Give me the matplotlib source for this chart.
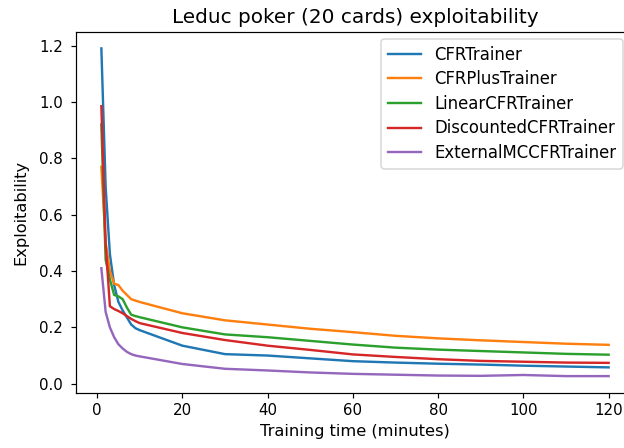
import matplotlib
matplotlib.use("Agg")
import matplotlib.pyplot as plt

# training time in minutes
minutes = [1, 2, 3, 4, 5, 6, 7, 8, 9, 10, 20, 30, 40, 50, 60, 70, 80, 90, 100, 110, 120]

# exploitability per trainer
cfr = [1.19, 0.70, 0.46, 0.35, 0.29, 0.26, 0.235, 0.21, 0.197, 0.19,
       0.135, 0.105, 0.10, 0.09, 0.08, 0.075, 0.071, 0.068, 0.064, 0.061, 0.058]
cfr_plus = [0.77, 0.50, 0.40, 0.355, 0.35, 0.33, 0.315, 0.30, 0.295, 0.29,
            0.25, 0.225, 0.21, 0.195, 0.183, 0.17, 0.161, 0.154, 0.148, 0.142, 0.138]
linear_cfr = [0.92, 0.44, 0.37, 0.315, 0.31, 0.30, 0.27, 0.245, 0.24, 0.236,
              0.20, 0.175, 0.165, 0.152, 0.139, 0.128, 0.121, 0.116, 0.111, 0.106, 0.103]
discounted_cfr = [0.985, 0.50, 0.275, 0.265, 0.258, 0.25, 0.24, 0.23, 0.222, 0.215,
                  0.18, 0.155, 0.135, 0.12, 0.104, 0.095, 0.087, 0.081, 0.078, 0.075, 0.074]
external_mccfr = [0.41, 0.255, 0.20, 0.165, 0.14, 0.125, 0.113, 0.105, 0.10, 0.097,
                  0.07, 0.053, 0.047, 0.04, 0.035, 0.032, 0.029, 0.028, 0.031, 0.027, 0.027]

series = [
    ("CFRTrainer", cfr),
    ("CFRPlusTrainer", cfr_plus),
    ("LinearCFRTrainer", linear_cfr),
    ("DiscountedCFRTrainer", discounted_cfr),
    ("ExternalMCCFRTrainer", external_mccfr),
]

dpi = 108
fig = plt.figure(figsize=(624 / dpi, 448 / dpi), dpi=dpi)
# right edge sits past the figure, the reference is clipped there
ax = fig.add_axes([76 / 624, 55.5 / 448, 558 / 624, 360.5 / 448])

for name, vals in series:
    ax.plot(minutes, vals, label=name, linewidth=1.6)

ax.set_title("Leduc poker (20 cards) exploitability", fontsize=13.3)
ax.set_xlabel("Training time (minutes)", fontsize=10.8)
ax.set_ylabel("Exploitability", fontsize=10.8, labelpad=7)
ax.tick_params(axis="y", pad=5)
ax.legend(loc="upper right", fontsize=11, borderaxespad=0, labelspacing=0.4,
          bbox_to_anchor=(623 / 624, 1 - 39 / 448), bbox_transform=fig.transFigure)

fig.savefig("out.png", dpi=dpi)
